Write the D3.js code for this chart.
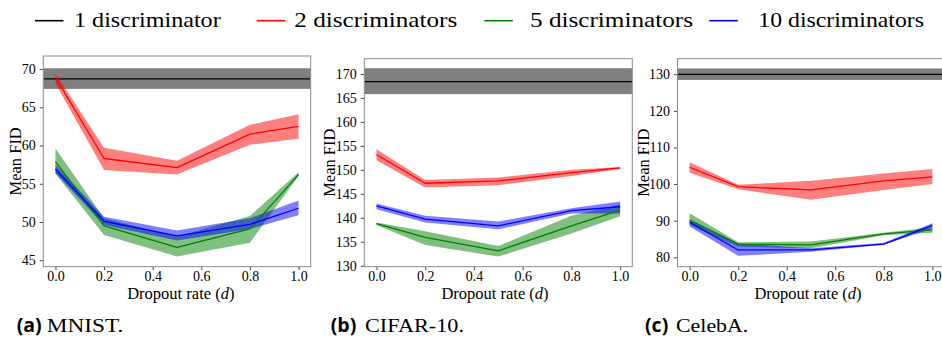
<!DOCTYPE html>
<html>
<head>
<meta charset="utf-8">
<script src="https://cdn.jsdelivr.net/npm/d3@7"></script>
<style>
  html, body { margin: 0; padding: 0; background: #fff; }
  svg { display: block; }
  text { font-family: "Liberation Serif", "Tinos", "Times New Roman", "DejaVu Serif", serif; fill: #000; }
</style>
</head>
<body>
<svg id="chart" width="942" height="337"></svg>
<script>
const SERIF = "'Liberation Serif', 'Tinos', 'Times New Roman', 'DejaVu Serif', serif";
const SANS = "'Open Sans', 'DejaVu Sans', sans-serif";

// Dropout rates at which each configuration was evaluated
const dropout = [0.0, 0.2, 0.5, 0.8, 1.0];
const xTickValues = [0.0, 0.2, 0.4, 0.6, 0.8, 1.0];

// Legend entries
const seriesNames = ["1 discriminator", "2 discriminators", "5 discriminators", "10 discriminators"];
const seriesColors = ["#000000", "#ff0000", "#008000", "#0000ff"];

// Each entry: [lower, mean, upper] FID at the matching dropout rate.
// Single-discriminator baseline is one band (no dropout).
const mnist1 = [67.4, 68.7, 70.1];
const mnist2 = [[68.1, 68.9, 69.4], [56.8, 58.3, 59.7], [56.2, 57.1, 58.0], [60.1, 61.5, 62.7], [60.9, 62.5, 64.1]];
const mnist5 = [[56.3, 57.9, 59.6], [48.3, 49.5, 50.5], [45.5, 46.7, 48.1], [47.3, 49.1, 50.8], [56.0, 56.2, 56.5]];
const mnist10 = [[56.4, 56.9, 57.5], [49.6, 50.1, 50.7], [47.6, 48.2, 48.9], [49.1, 49.7, 50.5], [50.9, 51.8, 52.8]];

const cifar1 = [165.8, 168.4, 171.2];
const cifar2 = [[152.0, 153.2, 154.3], [146.3, 147.2, 147.9], [146.8, 147.7, 148.4], [148.7, 149.4, 150.0], [150.2, 150.4, 150.6]];
const cifar5 = [[138.5, 138.8, 139.0], [134.3, 135.9, 137.2], [131.9, 133.1, 134.1], [136.7, 138.3, 140.4], [140.3, 141.6, 142.8]];
const cifar10 = [[141.8, 142.5, 143.0], [139.0, 139.7, 140.4], [137.6, 138.3, 139.2], [140.9, 141.5, 142.0], [140.9, 142.3, 143.4]];

const celeba1 = [128.45, 130.0, 131.6];
const celeba2 = [[103.1, 104.6, 106.0], [98.6, 99.3, 99.8], [95.7, 98.4, 100.9], [98.4, 100.9, 102.9], [100.0, 102.0, 104.1]];
const celeba5 = [[88.8, 90.2, 92.0], [82.9, 83.6, 84.1], [82.5, 83.4, 84.3], [86.0, 86.4, 86.7], [86.7, 87.5, 88.2]];
const celeba10 = [[88.4, 89.6, 90.2], [80.4, 82.0, 83.8], [81.5, 82.0, 82.5], [83.4, 83.6, 84.0], [87.9, 88.7, 89.3]];

// Y tick labels per panel
const mnistYTicks = [45, 50, 55, 60, 65, 70];
const cifarYTicks = [130, 135, 140, 145, 150, 155, 160, 165, 170];
const celebaYTicks = [80, 90, 100, 110, 120, 130];

// Panel captions
const captionTags = ["(a)", "(b)", "(c)"];
const captionNames = ["MNIST.", "CIFAR-10.", "CelebA."];

const svg = d3.select("#chart");

const panels = [
  { id: "a", base: mnist1, series: [mnist2, mnist5, mnist10], yTicks: mnistYTicks,
    left: 43.3, right: 310.7, top: 56, bottom: 266.7, yDomain: [44.16, 71.70],
    ylabX: 15.5, xlabX: 180.8 },
  { id: "b", base: cifar1, series: [cifar2, cifar5, cifar10], yTicks: cifarYTicks,
    left: 364.3, right: 632.3, top: 58.7, bottom: 266.7, yDomain: [129.79, 173.19],
    ylabX: 329, xlabX: 495 },
  { id: "c", base: celeba1, series: [celeba2, celeba5, celeba10], yTicks: celebaYTicks,
    left: 677.5, right: 944.5, top: 58.7, bottom: 266.7, yDomain: [77.43, 134.26],
    ylabX: 643, xlabX: 808 }
];

panels.forEach((p, pi) => {
  const x = d3.scaleLinear().domain([-0.05, 1.05]).range([p.left, p.right]);
  const y = d3.scaleLinear().domain(p.yDomain).range([p.bottom, p.top]);

  const g = svg.append("g");
  const clipId = "clip-" + p.id;
  svg.append("clipPath").attr("id", clipId)
    .append("rect").attr("x", p.left).attr("y", p.top)
    .attr("width", p.right - p.left).attr("height", p.bottom - p.top);

  const plot = g.append("g").attr("clip-path", `url(#${clipId})`);

  // Baseline: single discriminator, spans the whole axis
  plot.append("rect")
    .attr("x", p.left).attr("width", p.right - p.left)
    .attr("y", y(p.base[2])).attr("height", y(p.base[0]) - y(p.base[2]))
    .attr("fill", "#000").attr("fill-opacity", 0.5);
  plot.append("line")
    .attr("x1", p.left).attr("x2", p.right)
    .attr("y1", y(p.base[1])).attr("y2", y(p.base[1]))
    .attr("stroke", "#000").attr("stroke-width", 1.3);

  const area = d3.area()
    .x((d, i) => x(dropout[i]))
    .y0(d => y(d[0]))
    .y1(d => y(d[2]));
  const line = d3.line()
    .x((d, i) => x(dropout[i]))
    .y(d => y(d[1]));

  p.series.forEach((s, si) => {
    const c = seriesColors[si + 1];
    plot.append("path").datum(s).attr("d", area)
      .attr("fill", c).attr("fill-opacity", 0.5).attr("stroke", "none");
  });
  p.series.forEach((s, si) => {
    const c = seriesColors[si + 1];
    plot.append("path").datum(s).attr("d", line)
      .attr("fill", "none").attr("stroke", c).attr("stroke-width", 1.3)
      .attr("stroke-linejoin", "round");
  });

  // Axes
  const xAxis = d3.axisBottom(x).tickValues(xTickValues)
    .tickFormat(d3.format(".1f")).tickSize(3.5).tickPadding(1);
  const yAxis = d3.axisLeft(y).tickValues(p.yTicks)
    .tickFormat(d3.format("d")).tickSize(3.5).tickPadding(4);

  const gx = g.append("g").attr("transform", `translate(0,${p.bottom})`).call(xAxis);
  const gy = g.append("g").attr("transform", `translate(${p.left},0)`).call(yAxis);
  [gx, gy].forEach(a => {
    a.attr("font-family", SERIF);
    a.select(".domain").remove();
    a.selectAll(".tick line").attr("stroke", "#333").attr("stroke-width", 0.9);
    a.selectAll(".tick text").attr("font-size", 14)
      .style("font-family", SERIF).attr("fill", "#111");
  });

  // Frame
  g.append("rect")
    .attr("x", p.left).attr("y", p.top)
    .attr("width", p.right - p.left).attr("height", p.bottom - p.top)
    .attr("fill", "none").attr("stroke", "#8a8a8a").attr("stroke-width", 1);

  // Axis labels
  const xl = g.append("text")
    .attr("x", p.xlabX).attr("y", 298.5)
    .attr("text-anchor", "middle").attr("font-size", 16.5)
    .style("font-family", SERIF);
  xl.append("tspan").text("Dropout rate (");
  xl.append("tspan").attr("font-style", "italic").text("d");
  xl.append("tspan").text(")");

  g.append("text")
    .attr("transform", `translate(${p.ylabX},${(p.top + p.bottom) / 2}) rotate(-90)`)
    .attr("text-anchor", "middle").attr("dy", "0.35em")
    .attr("font-size", 16.5).style("font-family", SERIF).text("Mean FID");

  // Caption
  const capX = [16.7, 330.7, 645][pi];
  const nameX = [46.7, 365, 676][pi];
  const nameW = [76.7, 99, 72.3][pi];
  g.append("text")
    .attr("x", capX).attr("y", 331.5)
    .style("font-family", SANS)
    .attr("font-weight", "bold").attr("font-size", 19.5)
    .text(captionTags[pi]);
  g.append("text")
    .attr("x", nameX).attr("y", 331.5)
    .attr("font-size", 19.5).style("font-family", SERIF)
    .attr("textLength", nameW).attr("lengthAdjust", "spacingAndGlyphs")
    .text(captionNames[pi]);
});

// Legend across the top
const legendHandleX = [35, 256.7, 484.3, 709.3];
const legendTextX = [74, 294.3, 530, 758.3];
const legendTextW = [146.7, 163, 163, 165.7];
const legend = svg.append("g");
seriesNames.forEach((name, i) => {
  legend.append("line")
    .attr("x1", legendHandleX[i]).attr("x2", legendHandleX[i] + 28.5)
    .attr("y1", 20.7).attr("y2", 20.7)
    .attr("stroke", seriesColors[i]).attr("stroke-width", 1.6);
  legend.append("text")
    .attr("x", legendTextX[i]).attr("y", 27.3)
    .attr("font-size", 22).style("font-family", SERIF)
    .attr("textLength", legendTextW[i]).attr("lengthAdjust", "spacingAndGlyphs")
    .text(name);
});
</script>
</body>
</html>
